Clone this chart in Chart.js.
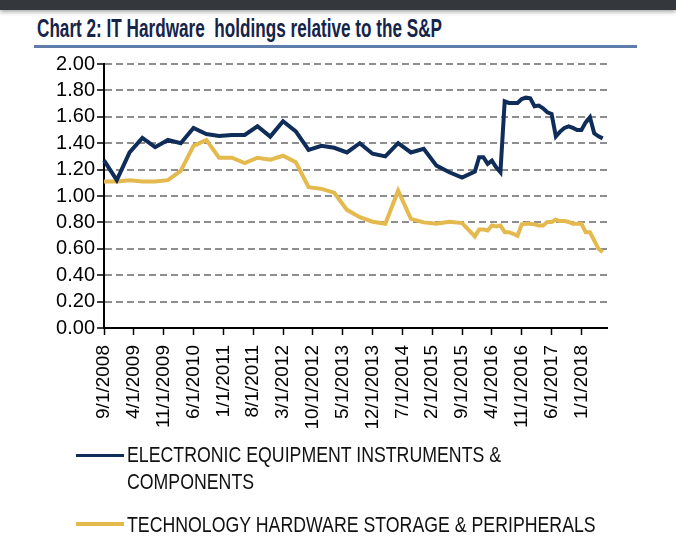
<!DOCTYPE html>
<html>
<head>
<meta charset="utf-8">
<script src="https://cdn.jsdelivr.net/npm/chart.js@4"></script>
<style>
  html, body { margin: 0; padding: 0; background: #ffffff; }
  body { width: 676px; height: 542px; position: relative; overflow: hidden; font-family: "Liberation Sans", Arial, sans-serif; }
  #topbar { position: absolute; left: 0; top: 0; width: 676px; height: 10px; background: #34373b; box-shadow: 0 2px 4px rgba(0,0,0,0.35); }
  #title { position: absolute; left: 37px; top: 14px; font-weight: bold; font-size: 25px; color: #16244a; white-space: pre; transform-origin: 0 0; font-family: "Liberation Sans", Arial, sans-serif; line-height: 28px; }
  #rule { position: absolute; left: 34px; top: 45px; width: 603px; height: 2.5px; background: #5f7dab; }
  #wrap { position: absolute; left: 0; top: 50px; width: 676px; height: 392px; }
  #legend { position: absolute; left: 0; top: 440px; width: 676px; }
  .swatch { position: absolute; left: 76px; width: 48px; height: 3.5px; }
  .ltext { position: absolute; left: 127px; width: 600px; font-size: 22px; line-height: 27px; color: #111; transform-origin: 0 0; }
</style>
</head>
<body>
<div id="topbar"></div>
<div id="title">Chart 2: IT Hardware  holdings relative to the S&amp;P</div>
<div id="rule"></div>
<div id="wrap"><canvas id="c" width="676" height="392"></canvas></div>
<div id="legend"></div>
<script>
// ---- data ----
const axisStart = '9/1/2008';
const axisEnd = '7/1/2018';
const tickLabels = ['9/1/2008','4/1/2009','11/1/2009','6/1/2010','1/1/2011','8/1/2011','3/1/2012',
  '10/1/2012','5/1/2013','12/1/2013','7/1/2014','2/1/2015','9/1/2015','4/1/2016','11/1/2016','6/1/2017','1/1/2018'];
const obsDates = [
  '9/1/2008','12/1/2008',
  '3/1/2009','6/1/2009','9/1/2009','12/1/2009',
  '3/1/2010','6/1/2010','9/1/2010','12/1/2010',
  '3/1/2011','6/1/2011','9/1/2011','12/1/2011',
  '3/1/2012','6/1/2012','9/1/2012','12/1/2012',
  '3/1/2013','6/1/2013','9/1/2013','12/1/2013',
  '3/1/2014','6/1/2014','9/1/2014','12/1/2014',
  '3/1/2015','6/1/2015','9/1/2015','12/1/2015',
  '1/1/2016','2/1/2016','3/1/2016','4/1/2016','5/1/2016','6/1/2016','7/1/2016','8/1/2016','9/1/2016','10/1/2016','11/1/2016','12/1/2016',
  '1/1/2017','2/1/2017','3/1/2017','4/1/2017','5/1/2017','6/1/2017','7/1/2017','8/1/2017','9/1/2017','10/1/2017','11/1/2017','12/1/2017',
  '1/1/2018','2/1/2018','3/1/2018','4/1/2018','5/1/2018','6/1/2018'
];
const electronicEquipment = [
  1.27,1.12,1.33,1.44,1.37,1.425,1.40,1.515,1.47,1.455,1.463,1.463,1.528,1.45,1.566,1.49,1.35,1.38,1.365,1.33,
  1.40,1.32,1.30,1.40,1.33,1.357,1.23,1.18,1.14,1.185,
  1.294,1.294,1.243,1.268,1.218,1.18,1.717,1.705,1.705,1.705,1.735,1.745,
  1.74,1.68,1.685,1.665,1.634,1.622,1.452,1.488,1.516,1.528,1.516,1.50,
  1.50,1.558,1.596,1.475,1.452,1.437
];
const techHardware = [
  1.11,1.11,1.12,1.11,1.11,1.12,1.19,1.38,1.425,1.29,1.29,1.25,1.29,1.275,1.305,1.255,1.067,1.054,1.025,0.895,
  0.84,0.805,0.79,1.04,0.827,0.80,0.79,0.805,0.795,0.694,
  0.747,0.747,0.739,0.777,0.77,0.777,0.726,0.726,0.714,0.699,0.785,0.79,
  0.79,0.785,0.777,0.777,0.803,0.803,0.82,0.81,0.81,0.803,0.79,0.79,
  0.79,0.726,0.726,0.663,0.60,0.575
];
const seriesNames = ['ELECTRONIC EQUIPMENT INSTRUMENTS & COMPONENTS', 'TECHNOLOGY HARDWARE STORAGE & PERIPHERALS'];
const seriesColors = ['#0f2d58', '#e4b94d'];
const yTicks = { min: 0, max: 2, step: 0.2 };

// ---- build monthly category axis ----
function parseD(s) { const p = s.split('/'); return { m: +p[0], y: +p[2] }; }
const s0 = parseD(axisStart), s1 = parseD(axisEnd);
const categories = [];
for (let y = s0.y, m = s0.m; y < s1.y || (y === s1.y && m <= s1.m); ) {
  categories.push(m + '/1/' + y);
  m++; if (m > 12) { m = 1; y++; }
}
function toSeries(vals) {
  const arr = categories.map(() => null);
  obsDates.forEach((d, i) => { arr[categories.indexOf(d)] = vals[i]; });
  return arr;
}

const FONT = "'Liberation Sans', Arial, sans-serif";
new Chart(document.getElementById('c'), {
  type: 'line',
  data: {
    labels: categories,
    datasets: [
      { label: seriesNames[0], data: toSeries(electronicEquipment), borderColor: seriesColors[0], backgroundColor: seriesColors[0], borderWidth: 4, pointRadius: 0, spanGaps: true, tension: 0 },
      { label: seriesNames[1], data: toSeries(techHardware), borderColor: seriesColors[1], backgroundColor: seriesColors[1], borderWidth: 4, pointRadius: 0, spanGaps: true, tension: 0 }
    ]
  },
  options: {
    responsive: false,
    animation: false,
    layout: { padding: { left: 53, right: 69, top: 13, bottom: 0 } },
    plugins: { legend: { display: false }, tooltip: { enabled: false } },
    scales: {
      x: {
        type: 'category',
        offset: false,
        afterFit: (s) => { s.height = 114; },
        border: { display: true, color: '#000', width: 2 },
        grid: { drawOnChartArea: false, drawTicks: true, tickLength: 7, tickWidth: 1.5,
                tickColor: (ctx) => (ctx.tick && tickLabels.includes(categories[ctx.index])) ? '#000' : 'rgba(0,0,0,0)' },
        ticks: { autoSkip: false, maxRotation: 90, minRotation: 90, padding: 10, color: '#000',
                 font: { family: FONT, size: 19 },
                 callback: (v, i) => tickLabels.includes(categories[i]) ? categories[i] : '' }
      },
      y: {
        min: yTicks.min, max: yTicks.max,
        afterFit: (s) => { s.width = 51; },
        border: { display: true, color: '#000', width: 2, dash: [7, 4] },
        grid: { drawOnChartArea: true, lineWidth: 2, tickLength: 7, tickWidth: 1.5, tickColor: '#000',
                color: (ctx) => (ctx.tick && ctx.tick.value === 0) ? 'rgba(0,0,0,0)' : '#8e8e8e' },
        ticks: { stepSize: yTicks.step, autoSkip: false, padding: 2, color: '#000', font: { family: FONT, size: 20 },
                 callback: (v) => Number(v).toFixed(2) }
      }
    }
  }
});

// ---- legend (HTML, wraps like the reference) ----
const legend = document.getElementById('legend');
const rows = [{ top: 1, swatchTop: 13.5 }, { top: 71, swatchTop: 82.3 }];
const mc = document.createElement('canvas').getContext('2d');
mc.font = "22px 'Liberation Sans', Arial, sans-serif";
const sx = 469 / mc.measureText(seriesNames[1]).width;
seriesNames.forEach((name, i) => {
  const sw = document.createElement('div'); sw.className = 'swatch'; sw.style.top = rows[i].swatchTop + 'px'; sw.style.background = seriesColors[i];
  const tx = document.createElement('div'); tx.className = 'ltext'; tx.style.top = rows[i].top + 'px'; tx.textContent = name;
  tx.style.transform = 'scaleX(' + sx + ')';
  legend.appendChild(sw); legend.appendChild(tx);
});

// fit the bold title to the reference width (condensed face)
const t = document.getElementById('title');
const w = t.getBoundingClientRect().width;
t.style.transform = 'scaleX(' + (405 / w) + ')';
</script>
</body>
</html>
